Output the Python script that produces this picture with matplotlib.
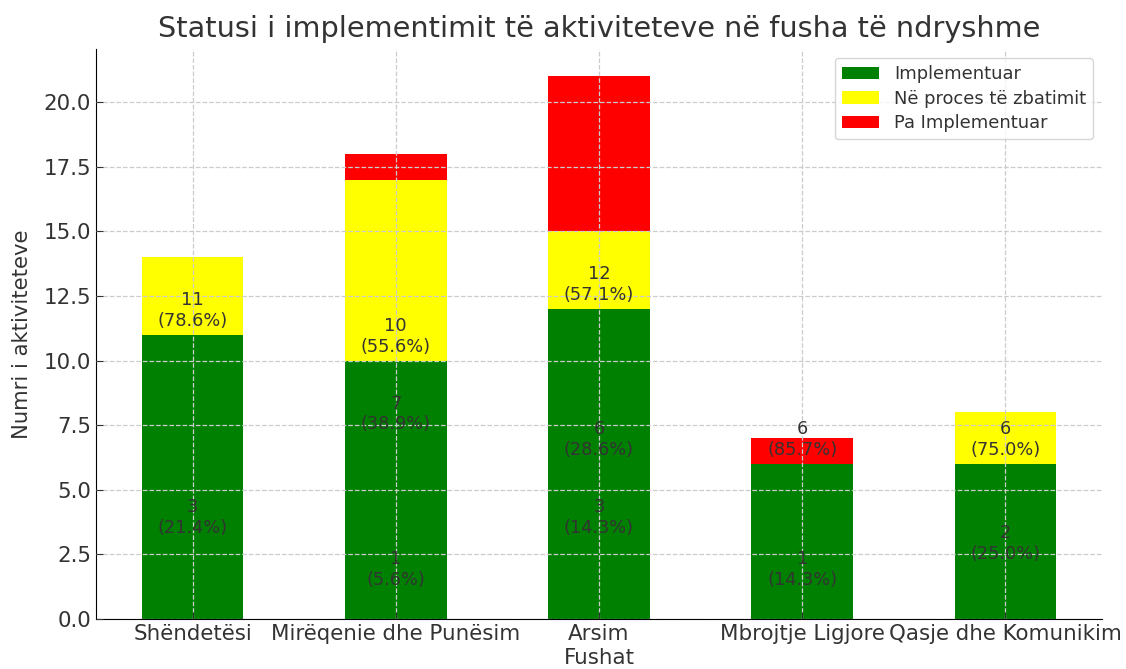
import matplotlib
matplotlib.use("Agg")
import matplotlib.pyplot as plt
import numpy as np

# te dhenat
fushat = ["Shëndetësi", "Mirëqenie dhe Punësim", "Arsim", "Mbrojtje Ligjore", "Qasje dhe Komunikim"]
implementuar = [11, 10, 12, 6, 6]
ne_proces = [3, 7, 3, 0, 2]
pa_implementuar = [0, 1, 6, 1, 0]

seri_emrat = ["Implementuar", "Në proces të zbatimit", "Pa Implementuar"]
ngjyrat = ["green", "yellow", "red"]

txt = "#333333"
plt.rcParams["text.color"] = txt
plt.rcParams["xtick.color"] = txt
plt.rcParams["ytick.color"] = txt
plt.rcParams["axes.labelcolor"] = txt

fig = plt.figure(figsize=(11.26, 6.69), dpi=100)
ax = fig.add_axes([0.0853, 0.0747, 0.8934, 0.852])

x = np.arange(len(fushat))
seri = [implementuar, ne_proces, pa_implementuar]
bottom = np.zeros(len(fushat))
for vlerat, emri, ngj in zip(seri, seri_emrat, ngjyrat):
    ax.bar(x, vlerat, 0.5, bottom=bottom, color=ngj, label=emri, zorder=1)
    bottom += np.array(vlerat)

totali = bottom
for vlerat in seri:
    for i, v in enumerate(vlerat):
        if v > 0:
            ax.text(x[i], v + 0.93, f"{v}\n({v / totali[i] * 100:.1f}%)",
                    ha="center", va="center", fontsize=12.8, color=txt, zorder=4)

ax.set_xlim(-0.475, 4.475)
ax.set_ylim(0, 22.05)
ax.set_yticks(np.arange(0, 20.1, 2.5))
ax.set_xticks(x)
ax.set_xticklabels(fushat, fontsize=15.4)
ax.tick_params(axis="y", labelsize=15.4)
ax.tick_params(direction="in", length=5)
ax.grid(True, linestyle="--", color="#cccccc", linewidth=0.9, zorder=3)
ax.set_axisbelow(False)
for s in ["top", "right"]:
    ax.spines[s].set_visible(False)

ax.set_title("Statusi i implementimit të aktiviteteve në fusha të ndryshme", fontsize=20.7, pad=9)
ax.set_xlabel("Fushat", fontsize=15.4, labelpad=3)
ax.set_ylabel("Numri i aktiviteteve", fontsize=15.2, labelpad=8)
ax.legend(loc="upper right", fontsize=12.9, handlelength=2.1, labelspacing=0.36)

fig.savefig("out.png", dpi=100)
